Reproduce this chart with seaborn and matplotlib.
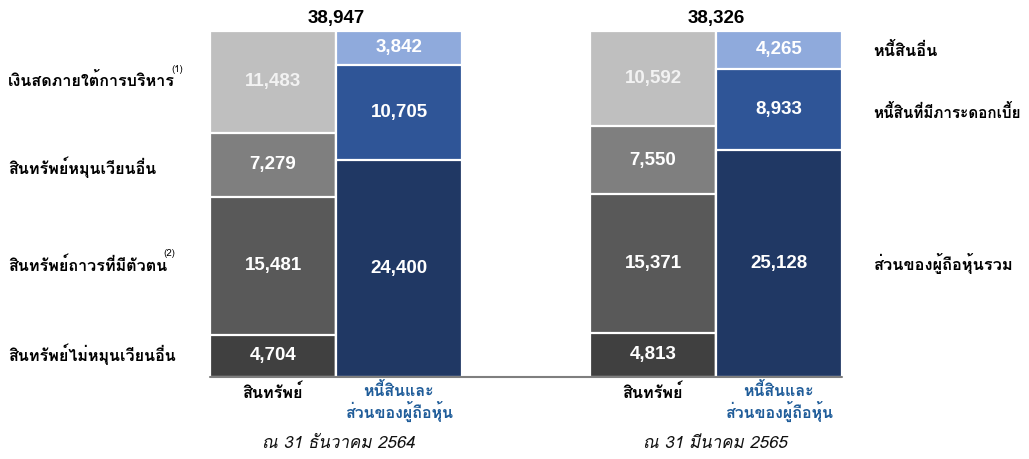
import matplotlib
matplotlib.use("Agg")
import matplotlib.pyplot as plt
import seaborn as sns
import pandas as pd
from matplotlib import font_manager, ft2font
from matplotlib.lines import Line2D
import matplotlib.patheffects as pe

# ---------------- data ----------------
periods = ["ณ 31 ธันวาคม 2564", "ณ 31 มีนาคม 2565"]
totals = [38947, 38326]
# assets, bottom -> top
asset_labels = ["สินทรัพย์ไม่หมุนเวียนอื่น", "สินทรัพย์ถาวรที่มีตัวตน",
                "สินทรัพย์หมุนเวียนอื่น", "เงินสดภายใต้การบริหาร"]
asset_notes = ["", "(2)", "", "(1)"]
assets_dec64 = [4704, 15481, 7279, 11483]
assets_mar65 = [4813, 15371, 7550, 10592]
# liabilities & equity, bottom -> top
liab_labels = ["ส่วนของผู้ถือหุ้นรวม", "หนี้สินที่มีภาระดอกเบี้ย", "หนี้สินอื่น"]
liab_dec64 = [24400, 10705, 3842]
liab_mar65 = [25128, 8933, 4265]
bar_names = ["สินทรัพย์", "หนี้สินและ\nส่วนของผู้ถือหุ้น"]

asset_colors = ["#404040", "#595959", "#7f7f7f", "#bfbfbf"]
liab_colors = ["#203864", "#2f5597", "#8faadc"]


# ---------------- fonts ----------------
def _w(v):
    if isinstance(v, (int, float)):
        return v
    return {"bold": 700, "heavy": 800, "black": 900, "semibold": 600,
            "demibold": 600, "extra bold": 800}.get(str(v).lower(), 400)


def find_thai_font():
    preferred = ["Tahoma", "Leelawadee UI", "Leelawadee", "Noto Sans Thai",
                 "Noto Sans Thai UI", "Loma", "Garuda", "Waree", "Umpush",
                 "Sarabun", "Kinnari", "Norasi", "TlwgTypo"]
    fams = {}
    for f in font_manager.fontManager.ttflist:
        try:
            cm = ft2font.FT2Font(f.fname).get_charmap()
        except Exception:
            continue
        if 0x0E01 in cm:
            d = fams.setdefault(f.name, {"bold": False, "italic": False})
            if _w(f.weight) >= 600:
                d["bold"] = True
            if f.style in ("italic", "oblique"):
                d["italic"] = True
    if not fams:
        return None, False, False
    ranked = sorted(fams.items(),
                    key=lambda kv: (not kv[1]["bold"],
                                    preferred.index(kv[0]) if kv[0] in preferred else 99))
    name, d = ranked[0]
    return name, d["bold"], d["italic"]


sns.set_theme(style="white")
thai, has_bold, has_italic = find_thai_font()
fam = ([thai] if thai else []) + ["Liberation Sans", "DejaVu Sans"]
plt.rcParams["font.family"] = fam
num_font = ["Liberation Sans", "DejaVu Sans"]


def bold_kw(color):
    kw = {"fontweight": "bold", "color": color}
    if not has_bold:
        kw["path_effects"] = [pe.withStroke(linewidth=0.8, foreground=color)]
    return kw


W, H = 1029, 459
fig = plt.figure(figsize=(W / 100, H / 100), dpi=100)
renderer = fig.canvas.get_renderer()

base_y = 376.5
top_y = 30.5
ax_h = (base_y - top_y) / H
ax_b = (H - base_y) / H
lefts = [210, 590]
bar_w_px = 126
period_cx = [338, 715]

data_sets = [(assets_dec64, liab_dec64), (assets_mar65, liab_mar65)]

for gi, (assets, liabs) in enumerate(data_sets):
    ax = fig.add_axes([lefts[gi] / W, ax_b, 2 * bar_w_px / W, ax_h])
    # stacked bars via cumulative totals, drawn from top layer down
    for names_idx, vals, cols in ((0, assets, asset_colors), (1, liabs, liab_colors)):
        cum = pd.Series(vals).cumsum().tolist()
        for k in range(len(vals) - 1, -1, -1):
            df = pd.DataFrame({"bar": [bar_names[names_idx]], "value": [cum[k]]})
            sns.barplot(data=df, x="bar", y="value", order=bar_names,
                        color=cols[k], saturation=1, width=1.0,
                        edgecolor="white", linewidth=1.6, errorbar=None, ax=ax)
            mid = cum[k] - vals[k] / 2
            ax.text(names_idx, mid, f"{vals[k]:,}", ha="center", va="center",
                    color="white" if (k < len(vals) - 1 or names_idx == 1) else "#f2f2f2",
                    fontsize=13.5, fontweight="bold", family=num_font)
    ax.set_xlim(-0.5, 1.5)
    ax.set_ylim(0, totals[gi])
    ax.axis("off")
    cx = (lefts[gi] + bar_w_px) / W
    # total on top
    fig.text(cx, 1 - 18 / H, f"{totals[gi]:,}", ha="center", va="center",
             fontsize=13.5, fontweight="bold", family=num_font, color="black")
    # bar names below
    fig.text((lefts[gi] + bar_w_px / 2) / W, 1 - 392 / H, bar_names[0],
             ha="center", va="center", fontsize=11.7, **bold_kw("black"))
    fig.text((lefts[gi] + 1.5 * bar_w_px) / W, 1 - 402 / H, bar_names[1],
             ha="center", va="center", fontsize=11.5, linespacing=1.1,
             **bold_kw("#1f5c99"))
    # period
    fig.text(period_cx[gi] / W, 1 - 444 / H, periods[gi], ha="center", va="center",
             fontsize=12.2, style="italic", color="#111111")

# baseline
fig.add_artist(Line2D([210 / W, 842 / W], [1 - 377 / H, 1 - 377 / H],
                      color="#7f7f7f", linewidth=1.5))

# left category labels (+ footnote markers placed after the text)
left_pos = [354, 265, 167, 80]
for lab, note, y in zip(asset_labels, asset_notes, left_pos):
    t = fig.text(8 / W, 1 - y / H, lab, ha="left", va="center",
                 fontsize=11.6, **bold_kw("black"))
    if note:
        bb = t.get_window_extent(renderer=renderer)
        fig.text((bb.x1 - 4) / W, 1 - (y - 11) / H, note, ha="left", va="center",
                 fontsize=7, color="black")

# right category labels
right_pos = [264, 112, 50]
right_sizes = [11.8, 11.0, 11.8]
for lab, y, fs in zip(liab_labels, right_pos, right_sizes):
    fig.text(873 / W, 1 - y / H, lab, ha="left", va="center",
             fontsize=fs, **bold_kw("black"))

fig.savefig("out.png", dpi=100)
